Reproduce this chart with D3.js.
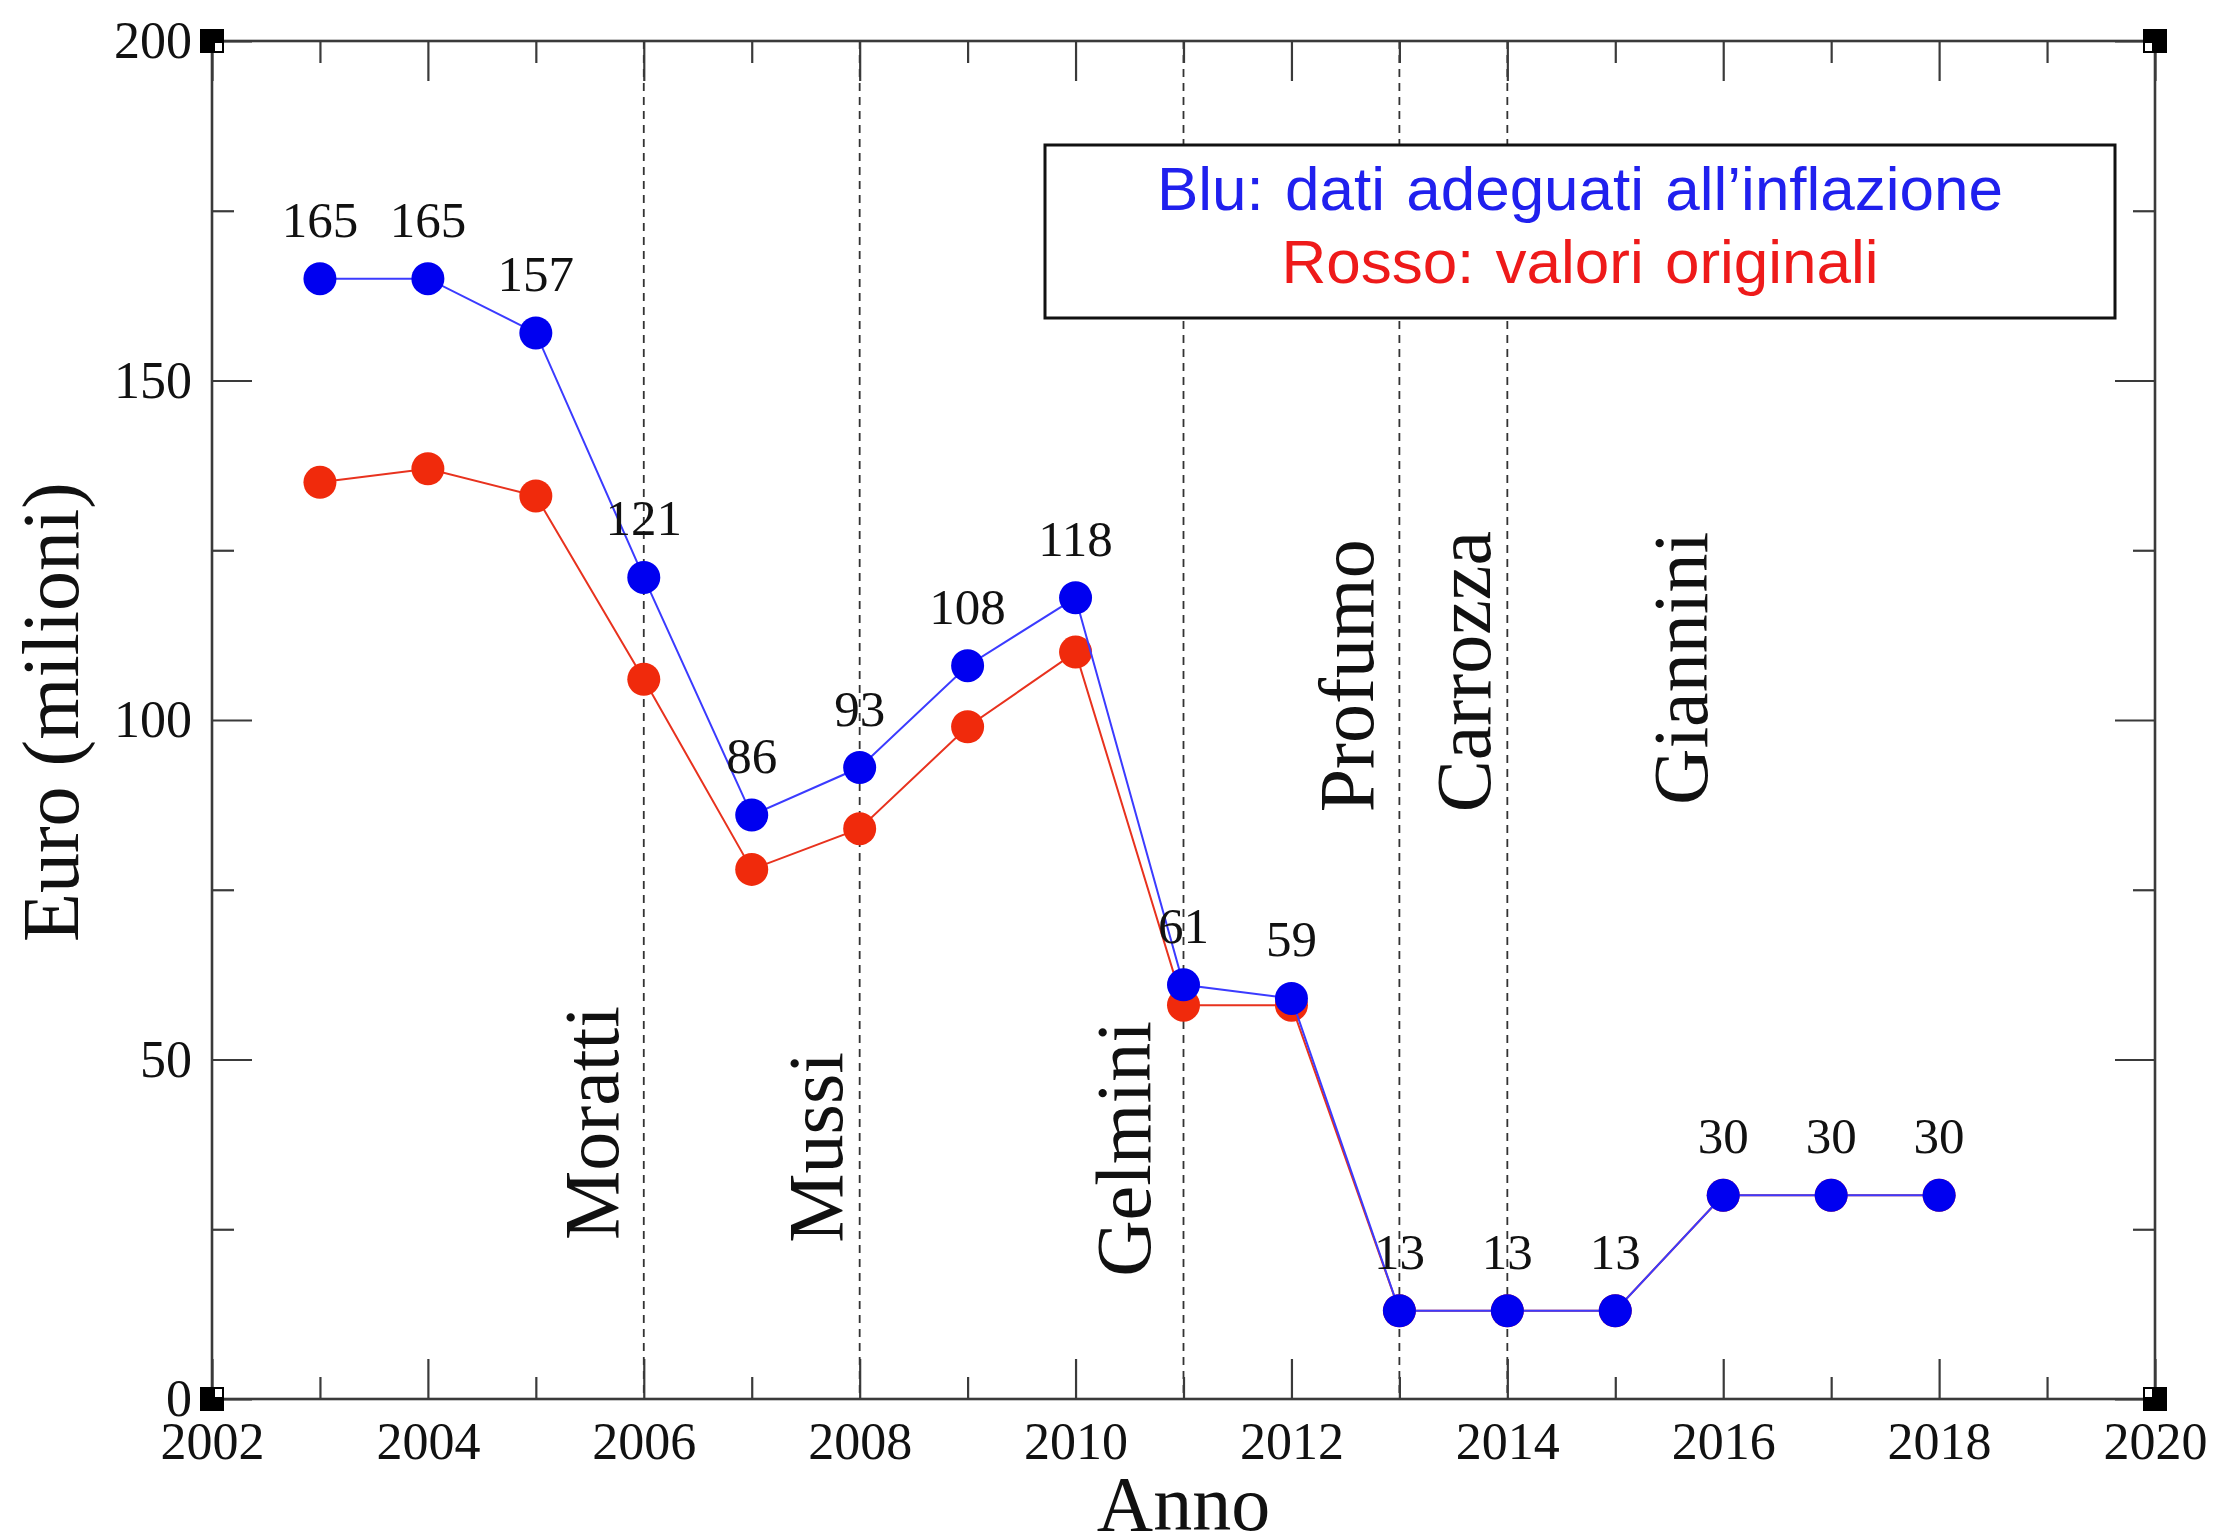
<!DOCTYPE html>
<html>
<head>
<meta charset="utf-8">
<script src="https://cdn.jsdelivr.net/npm/d3@7"></script>
<style>
  html, body { margin: 0; padding: 0; background: #fff; }
  svg { display: block; }
</style>
</head>
<body>
<svg id="chart" width="2213" height="1539"></svg>
<script>
// ---- data ----
const years = [2003, 2004, 2005, 2006, 2007, 2008, 2009, 2010, 2011, 2012, 2013, 2014, 2015, 2016, 2017, 2018];
const adjustedValues = [165, 165, 157, 121, 86, 93, 108, 118, 61, 59, 13, 13, 13, 30, 30, 30];
const originalValues = [135, 137, 133, 106, 78, 84, 99, 110, 58, 58, 13, 13, 13, 30, 30, 30];
const xMajorTicks = [2002, 2004, 2006, 2008, 2010, 2012, 2014, 2016, 2018, 2020];
const xMinorTicks = [2003, 2005, 2007, 2009, 2011, 2013, 2015, 2017, 2019];
const yMajorTicks = [0, 50, 100, 150, 200];
const yMinorTicks = [25, 75, 125, 175];
const ministerChangeYears = [2006, 2008, 2011, 2013, 2014];
const ministerNames = ["Moratti", "Mussi", "Gelmini", "Profumo", "Carrozza", "Giannini"];
const ministerNameYears = [2005.76, 2007.84, 2010.69, 2012.76, 2013.84, 2015.85];
const ministerNameValues = [23.4, 23, 18, 86.4, 86.4, 87.5];
const legendLines = ["Blu: dati adeguati all\u2019inflazione", "Rosso: valori originali"];
const xTitle = "Anno";
const yTitle = "Euro (milioni)";

// ---- layout ----
const L = 212, R = 2155, T = 41, B = 1399;
const serif = "'Liberation Serif', 'Times New Roman', serif";
const sans = "'Liberation Sans', Arial, sans-serif";
const axisColor = "#3a3a3a";
const blueLine = "#3b3bff", blueMark = "#0000f0";
const redLine = "#e8321e", redMark = "#f02a0c";

const svg = d3.select("#chart");
const x = d3.scaleLinear().domain([2002, 2020]).range([L, R]);
const y = d3.scaleLinear().domain([0, 200]).range([B, T]);

// ---- minister change dashed lines ----
svg.append("g").selectAll("line").data(ministerChangeYears).join("line")
  .attr("x1", d => x(d)).attr("x2", d => x(d))
  .attr("y1", y(200)).attr("y2", y(0))
  .attr("stroke", "#333").attr("stroke-width", 1.8)
  .attr("stroke-dasharray", "8,6");

// ---- axes ----
function styleAxis(g) {
  g.select(".domain").remove();
  g.selectAll(".tick line").attr("stroke", axisColor).attr("stroke-width", 2.2);
  g.selectAll(".tick text").attr("fill", "#111").style("font-family", serif).style("font-size", "52px");
}
// bottom major with labels
svg.append("g").attr("transform", `translate(0,${B})`)
  .call(d3.axisBottom(x).tickValues(xMajorTicks).tickFormat(d3.format("d")).tickSizeInner(-40).tickSizeOuter(0).tickPadding(23))
  .call(styleAxis);
svg.append("g").attr("transform", `translate(0,${B})`)
  .call(d3.axisBottom(x).tickValues(xMinorTicks).tickFormat("").tickSizeInner(-22).tickSizeOuter(0))
  .call(styleAxis);
// top
svg.append("g").attr("transform", `translate(0,${T})`)
  .call(d3.axisTop(x).tickValues(xMajorTicks).tickFormat("").tickSizeInner(-40).tickSizeOuter(0))
  .call(styleAxis);
svg.append("g").attr("transform", `translate(0,${T})`)
  .call(d3.axisTop(x).tickValues(xMinorTicks).tickFormat("").tickSizeInner(-22).tickSizeOuter(0))
  .call(styleAxis);
// left major with labels
svg.append("g").attr("transform", `translate(${L},0)`)
  .call(d3.axisLeft(y).tickValues(yMajorTicks).tickFormat(d3.format("d")).tickSizeInner(-40).tickSizeOuter(0).tickPadding(20))
  .call(styleAxis);
svg.append("g").attr("transform", `translate(${L},0)`)
  .call(d3.axisLeft(y).tickValues(yMinorTicks).tickFormat("").tickSizeInner(-22).tickSizeOuter(0))
  .call(styleAxis);
// right
svg.append("g").attr("transform", `translate(${R},0)`)
  .call(d3.axisRight(y).tickValues(yMajorTicks).tickFormat("").tickSizeInner(-40).tickSizeOuter(0))
  .call(styleAxis);
svg.append("g").attr("transform", `translate(${R},0)`)
  .call(d3.axisRight(y).tickValues(yMinorTicks).tickFormat("").tickSizeInner(-22).tickSizeOuter(0))
  .call(styleAxis);

// frame
svg.append("rect").attr("x", L).attr("y", T).attr("width", R - L).attr("height", B - T)
  .attr("fill", "none").attr("stroke", axisColor).attr("stroke-width", 2.6);

// corner squares
const corners = [[2002, 200, 1, 1], [2020, 200, -1, 1], [2002, 0, 1, -1], [2020, 0, -1, -1]];
const cg = svg.append("g");
corners.forEach(([cx, cy, sx, sy]) => {
  const px = x(cx), py = y(cy);
  cg.append("rect").attr("x", px - 12).attr("y", py - 12).attr("width", 24).attr("height", 24).attr("fill", "#000");
  cg.append("rect")
    .attr("x", sx > 0 ? px + 3 : px - 10).attr("y", sy > 0 ? py + 2 : py - 10)
    .attr("width", 7).attr("height", 8).attr("fill", "#fff");
});

// ---- series ----
const line = d3.line().x((d, i) => x(years[i])).y(d => y(d));
svg.append("path").datum(originalValues).attr("d", line)
  .attr("fill", "none").attr("stroke", redLine).attr("stroke-width", 2);
svg.append("g").selectAll("circle").data(originalValues).join("circle")
  .attr("cx", (d, i) => x(years[i])).attr("cy", d => y(d)).attr("r", 16.5).attr("fill", redMark);
svg.append("path").datum(adjustedValues).attr("d", line)
  .attr("fill", "none").attr("stroke", blueLine).attr("stroke-width", 2);
svg.append("g").selectAll("circle").data(adjustedValues).join("circle")
  .attr("cx", (d, i) => x(years[i])).attr("cy", d => y(d)).attr("r", 16.5).attr("fill", blueMark);

// value labels
svg.append("g").selectAll("text").data(adjustedValues).join("text")
  .attr("x", (d, i) => x(years[i])).attr("y", d => y(d) - 42)
  .attr("text-anchor", "middle")
  .style("font-family", serif).style("font-size", "51px").attr("fill", "#111")
  .text(d => d);

// minister names
svg.append("g").selectAll("text").data(ministerNames).join("text")
  .attr("transform", (d, i) => `translate(${x(ministerNameYears[i])},${y(ministerNameValues[i])}) rotate(-90)`)
  .style("font-family", serif).style("font-size", "78px").attr("fill", "#111")
  .text(d => d);

// ---- axis titles ----
svg.append("text").attr("x", (L + R) / 2).attr("y", 1530).attr("text-anchor", "middle")
  .style("font-family", serif).style("font-size", "78px").attr("fill", "#111").text(xTitle);
svg.append("text").attr("transform", `translate(78,${(T + B) / 2 - 8}) rotate(-90)`).attr("text-anchor", "middle")
  .style("font-family", serif).style("font-size", "80px").attr("fill", "#111").text(yTitle);

// ---- legend ----
const lg = svg.append("g");
lg.append("rect").attr("x", 1045).attr("y", 145).attr("width", 1070).attr("height", 173)
  .attr("fill", "#fff").attr("stroke", "#111").attr("stroke-width", 3);
lg.selectAll("text").data(legendLines).join("text")
  .attr("x", 1045 + 1070 / 2).attr("y", (d, i) => 210 + i * 73)
  .attr("text-anchor", "middle")
  .style("font-family", sans).style("font-size", "62px").style("word-spacing", "4px")
  .attr("fill", (d, i) => i === 0 ? "#2020ee" : "#ee1a1a")
  .text(d => d);
</script>
</body>
</html>
